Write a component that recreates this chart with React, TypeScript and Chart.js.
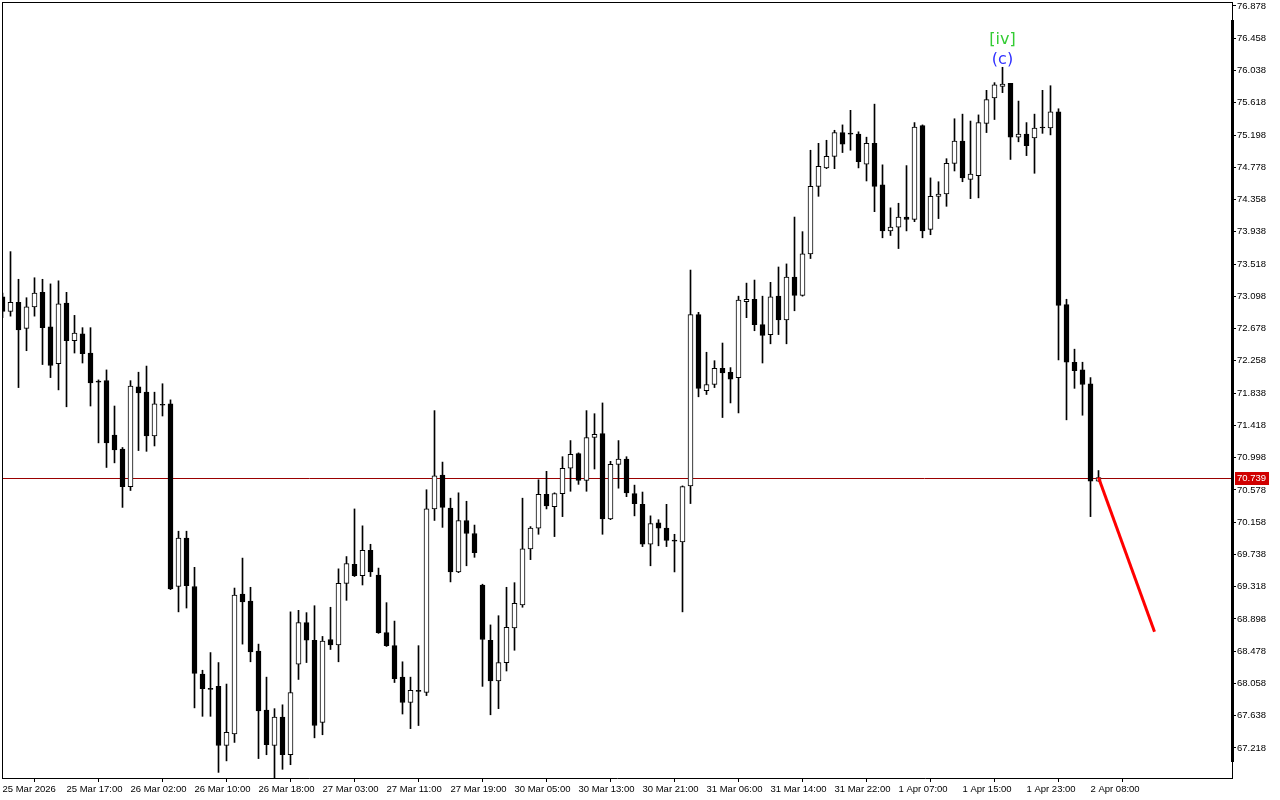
import React, { useEffect, useRef } from "react";
import { Chart, registerables } from "chart.js";
Chart.register(...registerables);

const xLabels = [
  "25 Mar 2026", "25 Mar 17:00", "26 Mar 02:00", "26 Mar 10:00", "26 Mar 18:00",
  "27 Mar 03:00", "27 Mar 11:00", "27 Mar 19:00", "30 Mar 05:00", "30 Mar 13:00",
  "30 Mar 21:00", "31 Mar 06:00", "31 Mar 14:00", "31 Mar 22:00", "1 Apr 07:00",
  "1 Apr 15:00", "1 Apr 23:00", "2 Apr 08:00",
];
const labelEvery = 8;

const yTicks = [
  76.878, 76.458, 76.038, 75.618, 75.198, 74.778, 74.358, 73.938, 73.518, 73.098,
  72.678, 72.258, 71.838, 71.418, 70.998, 70.578, 70.158, 69.738, 69.318, 68.898,
  68.478, 68.058, 67.638, 67.218,
];

const opens = [
  73.09, 72.90, 73.02, 72.68, 72.96, 73.15, 72.70, 72.22, 73.01, 72.52,
  72.61, 72.36, 71.99, 72.00, 71.29, 71.11, 70.62, 71.92, 71.85, 71.28,
  71.69, 71.70, 69.32, 69.95, 69.32, 68.18, 67.99, 68.02, 67.25, 67.40,
  69.22, 69.13, 68.48, 67.71, 67.25, 67.62, 67.13, 68.31, 68.85, 68.62,
  67.55, 68.63, 68.56, 69.36, 69.61, 69.46, 69.79, 69.47, 68.72, 68.55,
  68.14, 67.81, 67.965, 67.94, 70.33, 70.77, 70.34, 69.51, 70.18, 70.01,
  69.34, 68.62, 68.09, 68.33, 68.78, 69.08, 69.81, 70.08, 70.52, 70.36,
  70.53, 70.86, 71.05, 70.70, 71.26, 71.31, 70.20, 70.91, 70.98, 70.53,
  70.39, 69.87, 70.15, 70.08, 69.92, 69.90, 70.63, 72.86, 71.87, 71.95,
  72.16, 72.11, 72.04, 73.03, 73.06, 72.73, 72.60, 73.10, 72.79, 73.35,
  73.11, 73.65, 74.53, 74.77, 74.92, 75.23, 75.22, 75.21, 74.82, 75.09,
  74.55, 73.95, 74.00, 74.13, 74.10, 75.32, 73.97, 74.40, 74.43, 74.83,
  75.12, 74.62, 74.67, 75.35, 75.68, 75.83, 75.87, 75.17, 75.21, 75.16,
  75.30, 75.29, 75.50, 72.99, 72.24, 72.14, 71.96, 70.69,
];
const highs = [
  73.14, 73.68, 73.32, 73.08, 73.34, 73.32, 73.26, 73.30, 73.15, 72.85,
  72.69, 72.69, 72.01, 72.14, 71.67, 71.13, 72.00, 72.11, 72.19, 71.85,
  71.96, 71.75, 70.04, 70.04, 69.57, 68.23, 68.46, 68.33, 68.05, 69.30,
  69.69, 69.31, 68.57, 68.14, 67.73, 67.78, 68.99, 69.01, 68.98, 69.07,
  68.67, 69.05, 69.55, 69.71, 70.33, 70.11, 69.87, 69.56, 69.11, 68.87,
  68.34, 68.14, 68.55, 70.58, 71.61, 70.94, 70.47, 70.54, 70.43, 70.12,
  69.35, 68.82, 68.94, 69.31, 69.37, 70.47, 70.10, 70.71, 70.82, 70.54,
  71.01, 71.22, 71.06, 71.61, 71.57, 71.71, 70.95, 71.22, 71.01, 70.64,
  70.55, 70.24, 70.19, 70.39, 70.00, 70.63, 73.44, 72.89, 72.37, 72.26,
  72.49, 72.17, 73.10, 73.27, 73.31, 73.10, 73.28, 73.48, 73.52, 74.13,
  73.94, 75.00, 75.09, 75.13, 75.26, 75.33, 75.52, 75.24, 75.17, 75.60,
  74.81, 74.25, 74.31, 74.80, 75.36, 75.33, 74.64, 74.59, 74.89, 75.41,
  75.47, 75.38, 75.46, 75.78, 75.88, 76.08, 75.87, 75.64, 75.36, 75.47,
  75.78, 75.84, 75.54, 73.06, 72.41, 72.24, 72.04, 70.83,
];
const lows = [
  72.82, 72.84, 71.91, 72.39, 72.84, 72.21, 72.04, 71.88, 71.66, 72.36,
  72.23, 71.67, 71.19, 70.87, 70.93, 70.35, 70.57, 71.09, 71.08, 71.15,
  71.54, 69.28, 68.99, 69.04, 67.74, 67.63, 67.63, 66.90, 67.05, 67.29,
  68.57, 68.34, 67.08, 67.13, 66.82, 66.94, 67.00, 68.11, 68.33, 67.35,
  67.39, 68.50, 68.34, 69.14, 69.45, 69.34, 69.45, 68.71, 68.54, 68.07,
  67.66, 67.47, 67.51, 67.90, 70.18, 70.09, 69.38, 69.50, 69.59, 69.70,
  68.02, 67.65, 67.73, 68.22, 68.49, 69.05, 69.67, 70.00, 70.33, 69.97,
  70.23, 70.56, 70.65, 70.56, 70.85, 70.00, 70.19, 70.60, 70.49, 70.24,
  69.84, 69.59, 69.85, 69.84, 69.51, 68.99, 70.40, 71.79, 71.82, 71.91,
  71.52, 71.71, 71.58, 72.82, 72.65, 72.23, 72.48, 72.60, 72.48, 72.91,
  73.10, 73.59, 74.40, 74.76, 74.76, 74.97, 75.00, 74.77, 74.60, 74.20,
  73.86, 73.89, 73.72, 73.95, 74.07, 73.86, 73.90, 74.11, 74.27, 74.73,
  74.59, 74.37, 74.38, 75.23, 75.40, 75.75, 74.88, 75.11, 74.93, 74.70,
  75.22, 75.20, 72.27, 71.49, 71.90, 71.55, 70.23, 70.69,
];
const closes = [
  72.90, 73.02, 72.66, 72.96, 73.14, 72.69, 72.20, 73.00, 72.52, 72.62,
  72.35, 71.97, 71.98, 71.19, 71.10, 70.62, 71.93, 71.84, 71.28, 71.70,
  71.68, 69.29, 69.95, 69.33, 68.19, 67.99, 67.98, 67.25, 67.42, 69.21,
  69.12, 68.47, 67.70, 67.26, 67.62, 67.13, 67.94, 68.85, 68.62, 67.51,
  68.61, 68.56, 69.36, 69.62, 69.46, 69.79, 69.51, 68.72, 68.55, 68.12,
  67.81, 67.97, 67.955, 70.33, 70.76, 70.35, 69.51, 70.18, 70.01, 69.76,
  68.63, 68.09, 68.33, 68.79, 69.10, 69.81, 70.08, 70.52, 70.37, 70.53,
  70.86, 71.04, 70.70, 71.26, 71.30, 70.20, 70.91, 70.98, 70.54, 70.40,
  69.87, 70.14, 70.08, 69.92, 69.91, 70.62, 72.86, 71.90, 71.95, 72.16,
  72.10, 72.02, 73.05, 73.06, 72.73, 72.59, 73.09, 72.79, 73.35, 73.11,
  73.65, 74.53, 74.79, 74.92, 75.23, 75.08, 75.21, 74.85, 75.09, 74.53,
  73.95, 74.00, 74.13, 74.10, 75.30, 73.95, 74.40, 74.43, 74.83, 75.12,
  74.64, 74.69, 75.36, 75.66, 75.85, 75.86, 75.17, 75.21, 75.06, 75.29,
  75.29, 75.50, 72.98, 72.24, 72.13, 71.95, 70.69, 70.739,
];

const currentPrice = 70.739;
const forecastX = [137, 144];
const forecastY = [70.739, 68.73];
const waveIndex = 125;
const waveTop = "[iv]";
const waveBottom = "(c)";

const AXIS_FONT = { family: "'Liberation Sans', Arial, sans-serif", size: 9.5 };

export default function App() {
  const ref = useRef<HTMLCanvasElement>(null);

  useEffect(() => {
    document.body.style.margin = "0";
    const canvas = ref.current;
    if (!canvas) return;
    const idx = opens.map((_, i) => i);

    const overlay = {
      id: "overlay",
      beforeDatasetsDraw(chart: any) {
        const { ctx, chartArea, scales } = chart;
        const py = Math.round(scales.y.getPixelForValue(currentPrice)) + 0.5;
        ctx.save();
        ctx.strokeStyle = "#9a0000";
        ctx.lineWidth = 1;
        ctx.beginPath();
        ctx.moveTo(chartArea.left, py);
        ctx.lineTo(chartArea.right, py);
        ctx.stroke();
        ctx.restore();
      },
      afterDraw(chart: any) {
        const { ctx, chartArea, scales } = chart;
        ctx.save();
        ctx.fillStyle = "#000";
        ctx.fillRect(chartArea.left, chartArea.top, 1, chartArea.bottom - chartArea.top);
        ctx.fillRect(chartArea.left, chartArea.top, chartArea.right - chartArea.left, 1);
        ctx.fillRect(chartArea.right - 1, chartArea.top + 18, 3, chartArea.bottom - chartArea.top - 34);
        const py = Math.round(scales.y.getPixelForValue(currentPrice));
        ctx.fillStyle = "#d00000";
        ctx.fillRect(chartArea.right + 3, py - 6, 34, 13);
        ctx.fillStyle = "#fff";
        ctx.font = "9.5px 'Liberation Sans', Arial, sans-serif";
        ctx.textBaseline = "middle";
        ctx.textAlign = "left";
        ctx.fillText(currentPrice.toFixed(3), chartArea.right + 5, py + 0.5);
        const wx = scales.x.getPixelForValue(waveIndex);
        const wy = scales.y.getPixelForValue(highs[waveIndex]);
        ctx.textAlign = "center";
        ctx.font = "16px 'DejaVu Sans', sans-serif";
        ctx.fillStyle = "#3030ff";
        ctx.fillText(waveBottom, wx, wy - 7);
        ctx.fillStyle = "#33cc33";
        ctx.fillText(waveTop, wx, wy - 27);
        ctx.restore();
      },
    };

    const chart = new Chart(canvas, {
      type: "bar",
      data: {
        datasets: [
          {
            type: "bar",
            label: "wick",
            data: idx.map((i) => ({ x: i, y: [lows[i], highs[i]] })) as any,
            backgroundColor: "#000",
            borderWidth: 0,
            barThickness: 1,
            grouped: false,
            order: 2,
          } as any,
          {
            type: "bar",
            label: "body",
            data: idx.map((i) => ({ x: i, y: [opens[i], closes[i]] })) as any,
            backgroundColor: idx.map((i) => (closes[i] > opens[i] ? "#ffffff" : "#000000")),
            borderColor: "#000",
            borderWidth: 1,
            borderSkipped: false,
            barThickness: 5,
            minBarLength: 1,
            grouped: false,
            order: 1,
          } as any,
          {
            type: "line",
            label: "forecast",
            data: forecastX.map((x, i) => ({ x, y: forecastY[i] })) as any,
            borderColor: "#ff0000",
            borderWidth: 3,
            pointRadius: 0,
            order: 0,
          } as any,
        ],
      },
      options: {
        responsive: false,
        animation: false,
        devicePixelRatio: 1,
        events: [],
        layout: { padding: { left: 2, top: 2, right: 0, bottom: 0 } },
        plugins: { legend: { display: false }, tooltip: { enabled: false }, title: { display: false } },
        scales: {
          x: {
            type: "linear",
            min: -0.0625,
            max: 153.6875,
            offset: false,
            bounds: "data",
            afterBuildTicks: (s: any) => {
              s.ticks = xLabels.map((_, i) => ({ value: i * labelEvery }));
            },
            afterFit: (s: any) => {
              s.height = 22;
              s.paddingLeft = 0;
              s.paddingRight = 0;
            },
            grid: { drawOnChartArea: false, tickLength: 4, color: "#000", lineWidth: 1 },
            border: { display: true, color: "#000", width: 1 },
            ticks: {
              autoSkip: false,
              maxRotation: 0,
              minRotation: 0,
              align: "start",
              padding: 2,
              color: "#000",
              font: AXIS_FONT,
              callback: (_v: any, i: number) => xLabels[i],
            },
          } as any,
          y: {
            type: "linear",
            position: "right",
            min: 66.827,
            max: 76.93,
            bounds: "data",
            afterBuildTicks: (s: any) => {
              s.ticks = yTicks.map((v) => ({ value: v }));
            },
            afterFit: (s: any) => {
              s.width = 48;
              s.paddingTop = 0;
              s.paddingBottom = 0;
            },
            grid: { drawOnChartArea: false, tickLength: 4, color: "#000", lineWidth: 1 },
            border: { display: true, color: "#000", width: 1 },
            ticks: {
              autoSkip: false,
              padding: 1,
              color: "#000",
              font: AXIS_FONT,
              callback: (v: any) => Number(v).toFixed(3),
            },
          } as any,
        },
      },
      plugins: [overlay],
    } as any);

    return () => chart.destroy();
  }, []);

  return (
    <div style={{ width: 1280, height: 800, background: "#fff" }}>
      <canvas ref={ref} width={1280} height={800} style={{ display: "block" }} />
    </div>
  );
}
